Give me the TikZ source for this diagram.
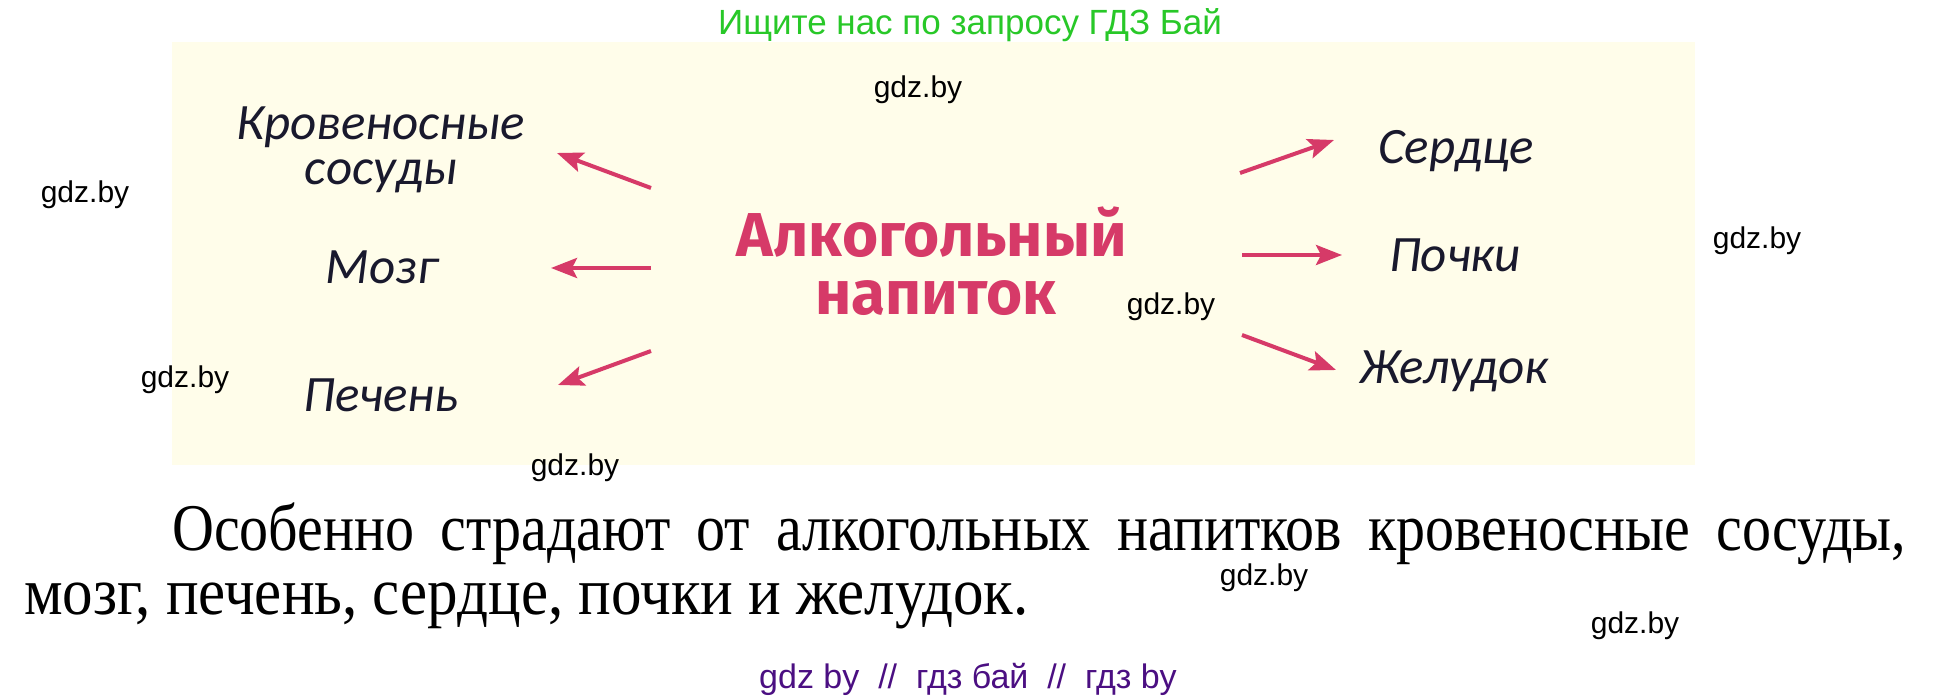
\documentclass[tikz,border=0pt]{standalone}
\usepackage{graphicx}
\usepackage{fontspec}
\setmainfont{Liberation Serif}
\newfontfamily\wmfont{Liberation Sans}
\newfontfamily\labfont{Carlito}
\newfontfamily\boldfont{Fira Sans}
\usetikzlibrary{arrows.meta}
\definecolor{cream}{RGB}{255,253,234}
\definecolor{crim}{RGB}{214,58,104}
\definecolor{labc}{RGB}{25,25,45}
\definecolor{grn}{RGB}{40,200,40}
\definecolor{purp}{RGB}{75,15,130}
\tikzset{
  wm/.style={font=\wmfont\fontsize{30}{30}\selectfont, text=black, inner sep=0pt},
  lab/.style={font=\labfont\itshape\fontsize{51}{45}\selectfont, text=labc, inner sep=0pt, anchor=base},
  mainlab/.style={font=\boldfont\bfseries\fontsize{62}{62}\selectfont, text=crim, inner sep=0pt, anchor=base},
  arr/.style={draw=crim, line width=4pt, -{Stealth[length=26pt,width=20pt,inset=5pt]}},
  body/.style={text=black, inner sep=0pt, anchor=base west},
}
\begin{document}
\begin{tikzpicture}[x=1pt,y=-1pt]
\useasboundingbox (0,0) rectangle (1937,700);
\fill[white] (0,0) rectangle (1937,700);
\fill[cream] (172,42) rectangle (1695,465);

% top and bottom captions
\node[font=\wmfont\fontsize{35}{35}\selectfont, text=grn, anchor=base, inner sep=0pt] (top) at (970,35) {Ищите нас по запросу ГДЗ Бай};
\node[font=\wmfont\fontsize{34}{34}\selectfont, text=purp, anchor=base, inner sep=0pt] (bot) at (968,688) {gdz by\ \ //\ \ гдз бай\ \ //\ \ гдз by};

% centre
\node[mainlab] (alc1) at (932,257) {Алкогольный};
\node[mainlab] (alc2) at (936,315) {напиток};

% labels
\node[lab, anchor=north, align=center] (krov) at (381,107) {Кровеносные\\сосуды};
\node[lab] (mozg) at (382,284) {Мозг};
\node[lab] (pech) at (381,411) {Печень};
\node[lab] (serd) at (1456,164) {Сердце};
\node[lab] (poch) at (1455,272) {Почки};
\node[lab] (zhel) at (1454,383) {Желудок};

% arrow end points
\coordinate (a1s) at (651,188); \coordinate (a1e) at (557,153);
\coordinate (a2s) at (651,268); \coordinate (a2e) at (551,268);
\coordinate (a3s) at (651,351); \coordinate (a3e) at (558,385);
\coordinate (b1s) at (1240,173); \coordinate (b1e) at (1334,140);
\coordinate (b2s) at (1242,255); \coordinate (b2e) at (1342,255);
\coordinate (b3s) at (1242,335); \coordinate (b3e) at (1336,370);
\draw[arr] (a1s) -- (a1e);
\draw[arr] (a2s) -- (a2e);
\draw[arr] (a3s) -- (a3e);
\draw[arr] (b1s) -- (b1e);
\draw[arr] (b2s) -- (b2e);
\draw[arr] (b3s) -- (b3e);

% body text
\node[body, font=\fontsize{58}{58}\selectfont] (line1) at (172,550) {\scalebox{1}[1.15]{\makebox[1734pt][s]{Особенно страдают от алкогольных напитков кровеносные сосуды,}}};
\node[body, font=\fontsize{61}{61}\selectfont] (line2) at (24,614) {\scalebox{1}[1.1]{мозг, печень, сердце, почки и желудок.}};

% watermarks
\node[wm] (w1) at (918,90) {gdz.by};
\node[wm] (w2) at (85,195) {gdz.by};
\node[wm] (w3) at (1757,241) {gdz.by};
\node[wm] (w4) at (1171,307) {gdz.by};
\node[wm] (w5) at (185,380) {gdz.by};
\node[wm] (w6) at (575,468) {gdz.by};
\node[wm] (w7) at (1264,578) {gdz.by};
\node[wm] (w8) at (1635,626) {gdz.by};
\end{tikzpicture}
\end{document}
